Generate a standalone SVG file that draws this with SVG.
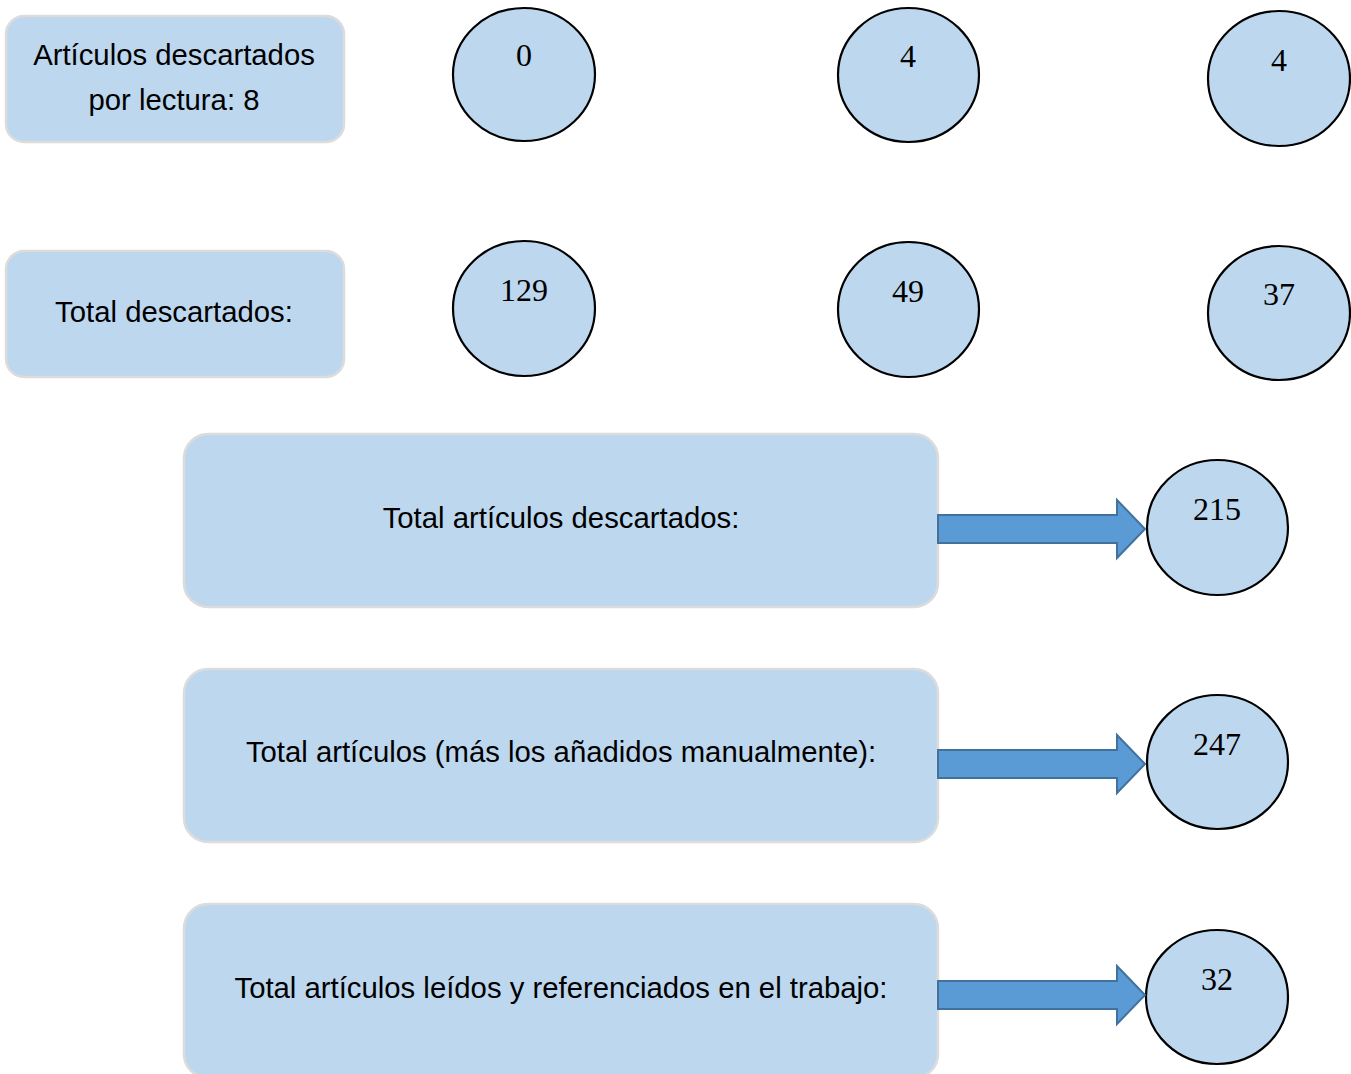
<svg xmlns="http://www.w3.org/2000/svg" width="1351" height="1074" viewBox="0 0 1351 1074">
<defs>
<style>
.box{fill:#BDD7EE;stroke:#DCDCDC;stroke-width:2.5}
.circ{fill:#BDD7EE;stroke:#000;stroke-width:2.2}
.lbl{font-family:"Liberation Sans",Arial,sans-serif;font-size:29.3px;fill:#000;text-anchor:middle}
.num{font-family:"Liberation Serif","Times New Roman",serif;font-size:32px;fill:#000;text-anchor:middle}
.arr{fill:#5B9BD5;stroke:#41719C;stroke-width:2}
</style>
</defs>
<rect width="1351" height="1074" fill="#fff"/>
<g id="box-lectura"><rect class="box" x="6" y="16" width="338" height="126" rx="18"/><text class="lbl" x="174" y="65">Artículos descartados</text><text class="lbl" x="174" y="110">por lectura: 8</text></g>
<g id="box-total-desc"><rect class="box" x="6" y="251" width="338" height="126" rx="18"/><text class="lbl" x="174" y="322">Total descartados:</text></g>
<g id="c-r1-1"><ellipse class="circ" cx="524" cy="74.5" rx="71" ry="66.5"/><text class="num" x="524" y="66">0</text></g>
<g id="c-r1-2"><ellipse class="circ" cx="908.5" cy="75" rx="70.5" ry="67"/><text class="num" x="908" y="67">4</text></g>
<g id="c-r1-3"><ellipse class="circ" cx="1279" cy="78.5" rx="71" ry="67.5"/><text class="num" x="1279" y="71">4</text></g>
<g id="c-r2-1"><ellipse class="circ" cx="524" cy="308.5" rx="71" ry="67.5"/><text class="num" x="524" y="301">129</text></g>
<g id="c-r2-2"><ellipse class="circ" cx="908.5" cy="309.5" rx="70.5" ry="67.5"/><text class="num" x="908" y="302">49</text></g>
<g id="c-r2-3"><ellipse class="circ" cx="1279" cy="313" rx="71" ry="67"/><text class="num" x="1279" y="305">37</text></g>
<g id="box-total-art-desc"><rect class="box" x="184" y="434" width="754" height="173" rx="24"/><text class="lbl" x="561" y="528">Total artículos descartados:</text></g>
<g id="box-total-art"><rect class="box" x="184" y="669" width="754" height="173" rx="24"/><text class="lbl" x="561" y="762">Total artículos (más los añadidos manualmente):</text></g>
<g id="box-leidos"><rect class="box" x="184" y="904" width="754" height="174" rx="24"/><text class="lbl" x="561" y="998">Total artículos leídos y referenciados en el trabajo:</text></g>
<g id="c-215"><ellipse class="circ" cx="1217.5" cy="527.5" rx="70.5" ry="67.5"/><text class="num" x="1217" y="520">215</text></g>
<g id="c-247"><ellipse class="circ" cx="1217.5" cy="762" rx="70.5" ry="67"/><text class="num" x="1217" y="755">247</text></g>
<g id="c-32"><ellipse class="circ" cx="1217" cy="997" rx="71" ry="67"/><text class="num" x="1217" y="990">32</text></g>
<g id="connectors">
<path class="arr" d="M938,515 H1117 V500 L1145,529 L1117,558 V543 H938 Z"/>
<path class="arr" d="M938,750 H1117 V735 L1145,764 L1117,793 V778 H938 Z"/>
<path class="arr" d="M938,981 H1117 V966 L1145,995 L1117,1024 V1009 H938 Z"/>
</g>
</svg>
